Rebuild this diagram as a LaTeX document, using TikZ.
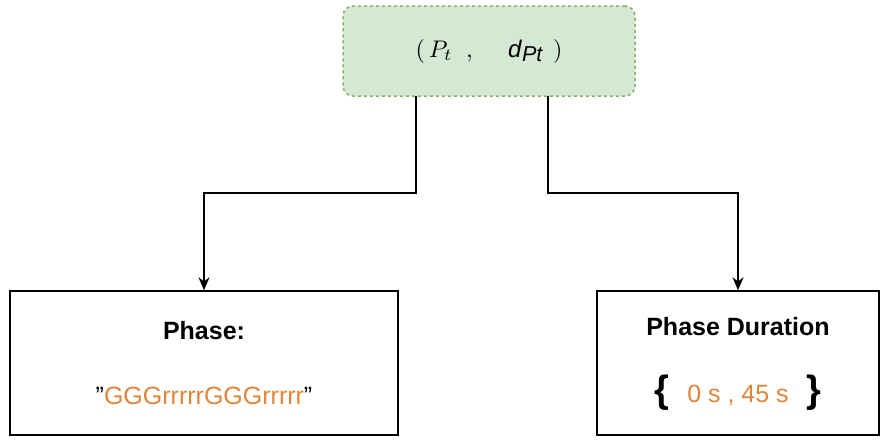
\documentclass[tikz,border=0pt]{standalone}
\usepackage{fontspec}
\setmainfont{Liberation Sans}
\usetikzlibrary{arrows.meta}
\definecolor{tupfill}{HTML}{D5E8D4}
\definecolor{tupline}{HTML}{82B366}
\definecolor{phorange}{HTML}{E0853A}
\begin{document}
\begin{tikzpicture}[x=1pt,y=-1pt,
  box/.style={draw,line width=1.5pt,inner sep=0pt},
  link/.style={line width=1.5pt,-{Stealth[length=13pt,width=11pt]}}]
\useasboundingbox (0,0) rectangle (891,445);
\node[draw=tupline,fill=tupfill,dashed,line width=1.5pt,rounded corners=10pt,
  minimum width=292pt,minimum height=90pt] (tuple) at (489,51)
  {\scalebox{2.4}{$(\,P_t\ \ ,\ \ $}\hspace{22pt}\scalebox{2.4}{\textit{d}\raisebox{-2pt}{\small\textit{Pt}}}\hspace{10pt}\scalebox{2.4}{$)$}};
\node[box,minimum width=388pt,minimum height=144pt] (phase) at (204,363) {};
\node[box,minimum width=282pt,minimum height=144pt] (dur) at (738,363) {};
\node[font=\bfseries\fontsize{25}{30}\selectfont] (phlabel) at (204,331) {Phase:};
\node[font=\fontsize{25}{30}\selectfont] (phval) at (204,396)
  {\symbol{34}\textcolor{phorange}{GGGrrrrrGGGrrrrr}\symbol{34}};
\node[font=\bfseries\fontsize{25}{30}\selectfont] (durlabel) at (738,327) {Phase Duration};
\node[font=\fontsize{25}{30}\selectfont] (durval) at (738,393)
  {{\fontsize{38}{40}\selectfont\bfseries\{}\hspace{18pt}\textcolor{phorange}{0 s , 45 s}\hspace{18pt}{\fontsize{38}{40}\selectfont\bfseries\}}};
\coordinate (ltop) at (416,96);
\coordinate (rtop) at (548,96);
\draw[link] (ltop) -- (416,193) -- (204,193) -- (phase.north);
\draw[link] (rtop) -- (548,193) -- (738,193) -- (dur.north);
\end{tikzpicture}
\end{document}
